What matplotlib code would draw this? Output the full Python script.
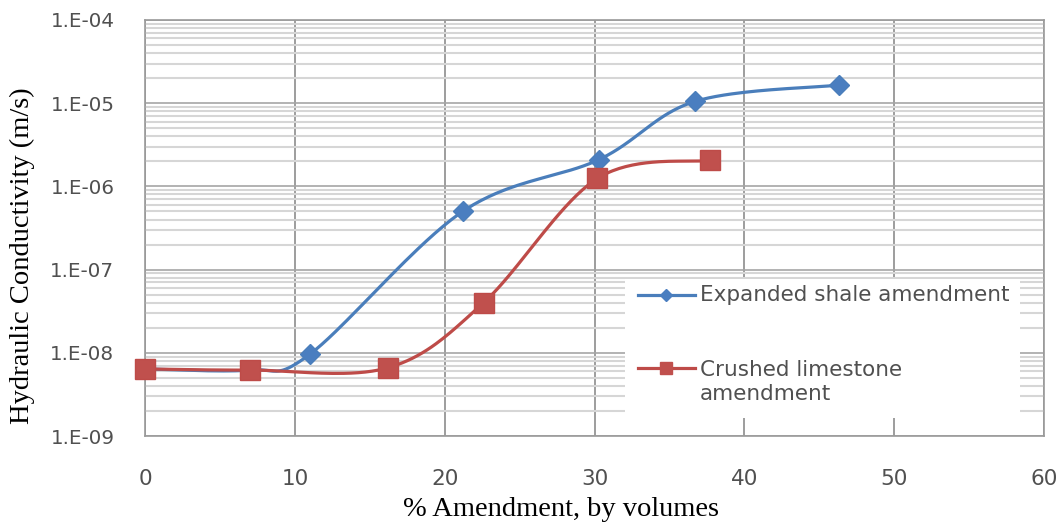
import numpy as np
import matplotlib
matplotlib.use("Agg")
import matplotlib.pyplot as plt
from matplotlib.lines import Line2D
from matplotlib.patches import Rectangle
from matplotlib.ticker import FixedLocator, LogLocator, NullFormatter

# % amendment by volume vs. hydraulic conductivity (m/s)
shale_x = [0, 7, 11, 21.2, 30.3, 36.7, 46.3]
shale_k = [6.4e-9, 6.2e-9, 9.6e-9, 5.0e-7, 2.1e-6, 1.05e-5, 1.65e-5]

limestone_x = [0, 7, 16.2, 22.6, 30.2, 37.7]
limestone_k = [6.4e-9, 6.2e-9, 6.6e-9, 4.0e-8, 1.25e-6, 2.05e-6]

x_ticks = [0, 10, 20, 30, 40, 50, 60]
y_ticks = [1e-9, 1e-8, 1e-7, 1e-6, 1e-5, 1e-4]
y_tick_labels = ["1.E-09", "1.E-08", "1.E-07", "1.E-06", "1.E-05", "1.E-04"]

SHALE_LABEL = "Expanded shale amendment"
LIMESTONE_LABEL = "Crushed limestone\namendment"

BLUE = "#4A7EBB"
BLUE_MARK = "#4A7EC0"
RED = "#BE4B48"
RED_MARK = "#C0504D"
TEXT_GRAY = "#505050"

W, H = 1064, 525
fig = plt.figure(figsize=(W / 100, H / 100), dpi=100)
ax = fig.add_axes([145 / W, 1 - 436 / H, 899 / W, 416 / H])
ax.set_xlim(0, 60)
ax.set_yscale("log")
ax.set_ylim(1e-9, 1e-4)


def smooth(xs, ys, px_per_x, px_per_decade, steps=40):
    """Excel-style smoothed line: cubic Bezier through points in screen space."""
    u = np.asarray(xs, float) * px_per_x
    v = np.log10(np.asarray(ys, float)) * px_per_decade
    pts = np.column_stack([u, v])
    padded = np.vstack([pts[0], pts, pts[-1]])
    out = []
    t = np.linspace(0, 1, steps)[:, None]
    for i in range(len(pts) - 1):
        p0, p3 = pts[i], pts[i + 1]
        c1 = p0 + (padded[i + 2] - padded[i]) / 6
        c2 = p3 - (padded[i + 3] - padded[i + 1]) / 6
        seg = ((1 - t) ** 3) * p0 + 3 * ((1 - t) ** 2) * t * c1 + 3 * (1 - t) * t ** 2 * c2 + t ** 3 * p3
        out.append(seg if i == 0 else seg[1:])
    curve = np.vstack(out)
    return curve[:, 0] / px_per_x, 10 ** (curve[:, 1] / px_per_decade)


px_x = 899 / 60
px_dec = 416 / 5

sx, sy = smooth(shale_x, shale_k, px_x, px_dec)
ax.plot(sx, sy, color=BLUE, lw=2.3, zorder=3, solid_capstyle="round")
ax.plot(shale_x, shale_k, ls="none", marker="D", ms=10, color=BLUE_MARK,
        mec=BLUE, zorder=4, clip_on=False)

lx, ly = smooth(limestone_x, limestone_k, px_x, px_dec)
ax.plot(lx, ly, color=RED, lw=2.3, zorder=5, solid_capstyle="round")
ax.plot(limestone_x, limestone_k, ls="none", marker="s", ms=14, color=RED_MARK,
        mec=RED, zorder=6, clip_on=False)

# grid: decade and minor horizontal lines, vertical lines every 10
ax.yaxis.set_major_locator(FixedLocator(y_ticks))
ax.yaxis.set_minor_locator(LogLocator(base=10, subs=np.arange(2, 10)))
ax.yaxis.set_minor_formatter(NullFormatter())
ax.set_yticklabels(y_tick_labels)
ax.set_xticks(x_ticks)
ax.grid(True, which="minor", axis="y", color="#d6d6d6", lw=1.5)
ax.grid(True, which="major", axis="y", color="#a6a6a6", lw=1.2)
ax.grid(True, which="major", axis="x", color="#8c8c8c", lw=1.2)
ax.set_axisbelow(True)
for side in ax.spines.values():
    side.set_color("#9a9a9a")
    side.set_linewidth(1.2)

ax.tick_params(axis="both", which="both", length=0, labelcolor=TEXT_GRAY)
ax.tick_params(axis="x", pad=24, labelsize=15.5)
ax.tick_params(axis="y", pad=22, labelsize=14.3)
for lab in ax.get_xticklabels() + ax.get_yticklabels():
    lab.set_family("DejaVu Sans")

fig.text(561 / W, 1 - 510 / H, "% Amendment, by volumes", ha="center",
         va="center", family="Liberation Serif", fontsize=20.5, color="black")
fig.text(22 / W, 1 - 256 / H, "Hydraulic Conductivity (m/s)", ha="center",
         va="center", rotation=90, family="Liberation Serif", fontsize=20.5,
         color="black")

# legend box drawn in axes coordinates
def ax_x(px):
    return (px - 145) / 899


def ax_y(py):
    return (436 - py) / 416


ax.add_patch(Rectangle((ax_x(625), ax_y(418)), ax_x(1020) - ax_x(625),
                       ax_y(279) - ax_y(418), transform=ax.transAxes,
                       facecolor="white", edgecolor="none", zorder=7))
for py, color, mcolor, marker, ms in [(295, BLUE, BLUE_MARK, "D", 6),
                                      (368, RED, RED_MARK, "s", 9)]:
    ax.add_line(Line2D([ax_x(638), ax_x(695)], [ax_y(py)] * 2, color=color,
                       lw=2.3, transform=ax.transAxes, zorder=8))
    ax.add_line(Line2D([ax_x(666)], [ax_y(py)], marker=marker, ms=ms,
                       color=mcolor, ls="none", transform=ax.transAxes,
                       zorder=9))
ax.text(ax_x(700), ax_y(295), SHALE_LABEL, transform=ax.transAxes,
        va="center", ha="left", fontsize=15.5, color=TEXT_GRAY,
        family="DejaVu Sans", zorder=9)
ax.text(ax_x(700), ax_y(382), LIMESTONE_LABEL, transform=ax.transAxes,
        va="center", ha="left", fontsize=15.5, color=TEXT_GRAY,
        family="DejaVu Sans", linespacing=1.3, zorder=9)

fig.savefig("out.png", dpi=100, facecolor="white")
